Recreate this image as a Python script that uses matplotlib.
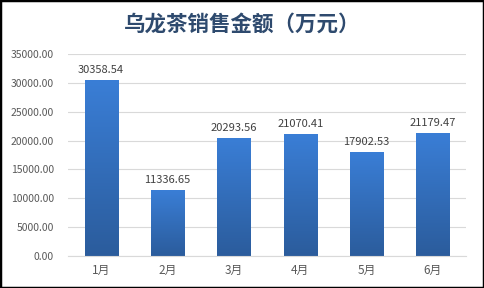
import numpy as np
import matplotlib
matplotlib.use('Agg')
import matplotlib.pyplot as plt
from matplotlib.colors import LinearSegmentedColormap
from matplotlib.patches import Rectangle

plt.rcParams['font.family'] = ['Noto Sans CJK SC', 'DejaVu Sans']

months = ['1月', '2月', '3月', '4月', '5月', '6月']
sales = [30358.54, 11336.65, 20293.56, 21070.41, 17902.53, 21179.47]
yticks = [0, 5000, 10000, 15000, 20000, 25000, 30000, 35000]
title = '乌龙茶销售金额（万元）'

fig = plt.figure(figsize=(4.84, 2.88), dpi=100)
ax = fig.add_axes([0.1405, 0.111, 0.8225, 0.7015])

x = np.arange(len(months))
bars = ax.bar(x, sales, width=0.5, color='none', edgecolor='none', zorder=2)

# vertical gradient fill, lighter at top
cmap = LinearSegmentedColormap.from_list('blu', ['#2B5C9C', '#3A7ED6'])
grad = np.linspace(0, 1, 256).reshape(-1, 1)
for b in bars:
    x0, w, h = b.get_x(), b.get_width(), b.get_height()
    ax.imshow(grad, cmap=cmap, aspect='auto', origin='lower',
              extent=(x0, x0 + w, 0, h), zorder=2)
    ax.annotate(f'{h:.2f}', (x0 + w / 2, h), xytext=(0, 4), textcoords='offset points',
                ha='center', va='bottom', fontsize=8, color='#404040')

ax.set_xlim(-0.5, len(months) - 0.5)
ax.set_ylim(0, 35000)
ax.set_yticks(yticks)
ax.set_yticklabels([f'{v:.2f}' for v in yticks])
ax.set_xticks(x)
ax.set_xticklabels(months)
ax.tick_params(axis='both', length=0, colors='#595959')
ax.tick_params(axis='y', pad=10, labelsize=7.5)
ax.tick_params(axis='x', pad=6, labelsize=8.5)
ax.grid(axis='y', color='#D9D9D9', linewidth=0.8, zorder=0)
ax.set_axisbelow(True)
for s in ['top', 'right', 'left']:
    ax.spines[s].set_visible(False)
ax.spines['bottom'].set_color('#D9D9D9')

fig.text(0.5, 0.915, title, ha='center', va='center', fontsize=15.5,
         fontweight='bold', color='#2E4A6E')

fig.patches.append(Rectangle((0, 0), 1, 1, transform=fig.transFigure, fill=False,
                             edgecolor='black', linewidth=2.5))

fig.savefig('out.png', dpi=100)
